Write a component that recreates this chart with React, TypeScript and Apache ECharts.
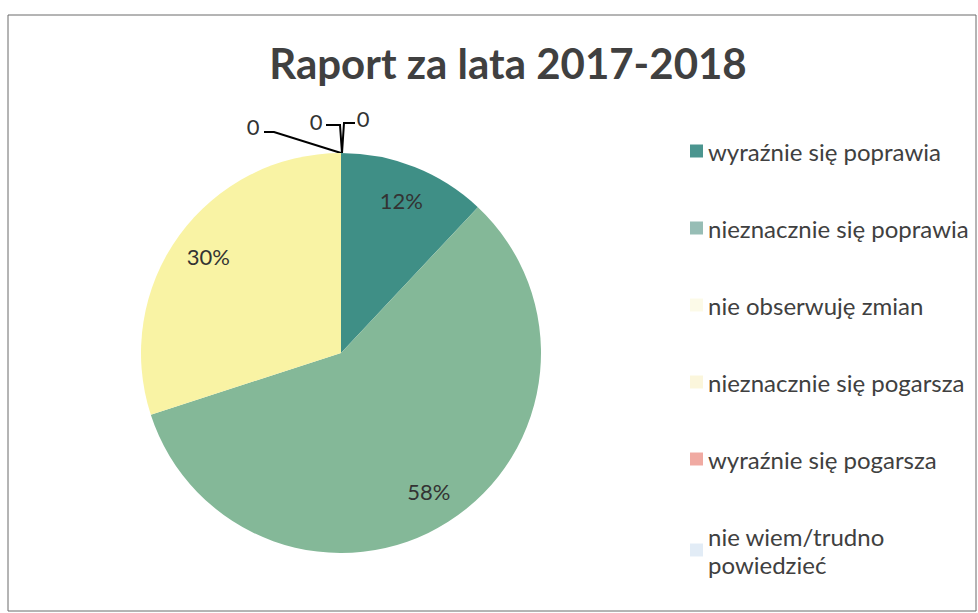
import React, { useEffect, useRef } from "react";
import * as echarts from "echarts";

const TITLE = "Raport za lata 2017-2018";
const categories = [
  "wyraźnie się poprawia",
  "nieznacznie się poprawia",
  "nie obserwuję zmian",
  "nieznacznie się pogarsza",
  "wyraźnie się pogarsza",
  "nie wiem/trudno powiedzieć",
];
const values = [12, 58, 30, 0, 0, 0];
const sliceColors = ["#3f8f86", "#84b898", "#f9f3a4", "#fbf5c8", "#f0a8a0", "#dce8f3"];
const legendColors = ["#4b958f", "#97bdb5", "#fcfae8", "#fbf6dc", "#f0aaa2", "#e2ecf6"];

const FONT = "Lato, 'Open Sans', sans-serif";
const CX = 341;
const CY = 353;
const R = 200;

// label positions for zero-valued slices (label centre, leader line)
const zeroLabels: Record<number, { x: number; y: number; line: number[][] }> = {
  3: { x: 253, y: 126, line: [[341, 153], [274, 132], [264, 132]] },
  4: { x: 316, y: 121, line: [[342, 153], [340, 125], [326, 125]] },
  5: { x: 363, y: 118, line: [[342, 153], [344, 123], [355, 123]] },
};

export default function App() {
  const ref = useRef<HTMLDivElement>(null);
  useEffect(() => {
    if (!ref.current) return;
    const chart = echarts.init(ref.current, undefined, { renderer: "svg" });
    const total = values.reduce((a, b) => a + b, 0);
    const mids: number[] = [];
    let acc = 0;
    values.forEach((v) => {
      mids.push(((acc + v / 2) / total) * Math.PI * 2);
      acc += v;
    });
    chart.setOption({
      animation: false,
      backgroundColor: "#ffffff",
      title: {
        text: TITLE,
        left: 503,
        top: 37,
        textAlign: "center",
        textStyle: { fontFamily: FONT, fontSize: 42, fontWeight: "bold", color: "#404040" },
      },
      legend: {
        orient: "vertical",
        left: 685,
        top: 132,
        height: 470,
        itemWidth: 13,
        itemHeight: 13,
        itemGap: 49,
        icon: "rect",
        data: categories.map((c, i) => ({ name: c, itemStyle: { color: legendColors[i] } })),
        formatter: (name: string) => name.replace("/trudno ", "/trudno\n"),
        textStyle: { fontFamily: FONT, fontSize: 24, color: "#404040", lineHeight: 28 },
      },
      graphic: [
        {
          type: "rect",
          shape: { x: 8, y: 15, width: 968, height: 596 },
          style: { fill: "none", stroke: "#6a6a6a", lineWidth: 1 },
          silent: true,
        },
      ],
      series: [
        {
          type: "pie",
          center: [CX, CY],
          radius: R,
          startAngle: 90,
          clockwise: true,
          avoidLabelOverlap: false,
          minShowLabelAngle: 0,
          data: categories.map((c, i) => ({
            name: c,
            value: values[i],
            itemStyle: { color: sliceColors[i] },
            labelLine: { show: values[i] === 0 },
          })),
          label: {
            show: true,
            position: "outside",
            fontFamily: FONT,
            fontSize: 22,
            color: "#333333",
            formatter: (p: any) => (p.value === 0 ? "0" : `${p.percent}%`),
          },
          labelLine: { show: true, lineStyle: { color: "#000000", width: 2 } },
          labelLayout: (p: any) => {
            const i = p.dataIndex;
            if (values[i] === 0) {
              const z = zeroLabels[i];
              return { x: z.x, y: z.y, align: "center", verticalAlign: "middle", labelLinePoints: z.line };
            }
            const a = mids[i];
            return {
              x: CX + 0.82 * R * Math.sin(a),
              y: CY - 0.82 * R * Math.cos(a),
              align: "center",
              verticalAlign: "middle",
            };
          },
        },
      ],
    });
    return () => chart.dispose();
  }, []);
  return <div ref={ref} style={{ position: "fixed", left: 0, top: 0, width: 978, height: 613 }} />;
}
